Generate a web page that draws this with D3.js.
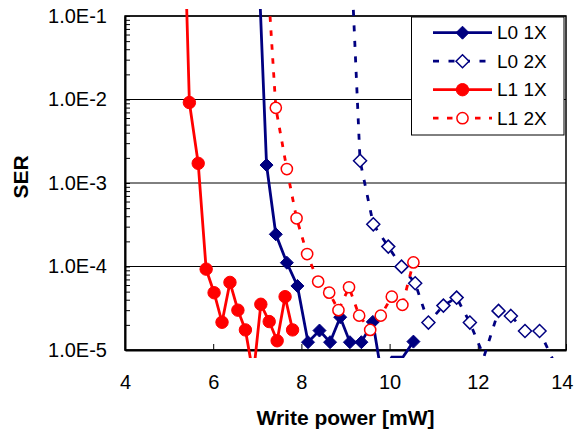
<!DOCTYPE html>
<html>
<head>
<meta charset="utf-8">
<script src="https://cdn.jsdelivr.net/npm/d3@7"></script>
<style>
  html, body { margin: 0; padding: 0; background: #fff; }
  svg { display: block; font-family: "Liberation Sans", Arial, sans-serif; }
</style>
</head>
<body>
<svg id="chart" width="575" height="434"></svg>
<script>
// Symbol error rate vs. write power for two layers at 1X and 2X speed
const l0x1Power = [7.0, 7.21, 7.42, 7.67, 7.91, 8.15, 8.41, 8.65, 8.88, 9.10, 9.36, 9.62, 9.82, 10.05, 10.30, 10.54];
const l0x1Ser   = [1.0, 1.64e-3, 2.43e-4, 1.11e-4, 5.85e-5, 1.24e-5, 1.71e-5, 1.24e-5, 2.47e-5, 1.24e-5, 1.24e-5, 2.17e-5, 5e-6, 8.2e-6, 8.2e-6, 1.26e-5];

const l0x2Power = [9.10, 9.33, 9.63, 9.97, 10.27, 10.58, 10.88, 11.22, 11.52, 11.82, 12.14, 12.47, 12.75, 13.07, 13.40, 13.70];
const l0x2Ser   = [1.0, 1.85e-3, 3.2e-4, 1.73e-4, 9.96e-5, 6.3e-5, 2.13e-5, 3.4e-5, 4.24e-5, 2.13e-5, 8.3e-6, 2.94e-5, 2.56e-5, 1.69e-5, 1.69e-5, 7.7e-6];

const l1x1Power = [5.35, 5.46, 5.66, 5.84, 6.02, 6.20, 6.38, 6.56, 6.73, 6.91, 7.08, 7.27, 7.45, 7.63, 7.80];
const l1x1Ser   = [1.0, 9.2e-3, 1.72e-3, 9.3e-5, 4.85e-5, 2.15e-5, 6.45e-5, 3.0e-5, 1.74e-5, 5e-6, 3.53e-5, 2.19e-5, 1.29e-5, 4.35e-5, 1.74e-5];

const l1x2Power = [7.17, 7.42, 7.67, 7.89, 8.13, 8.38, 8.63, 8.84, 9.08, 9.31, 9.56, 9.80, 10.05, 10.29, 10.54];
const l1x2Ser   = [1.0, 7.94e-3, 1.47e-3, 3.78e-4, 1.41e-4, 6.6e-5, 4.86e-5, 3.0e-5, 5.64e-5, 2.58e-5, 1.74e-5, 2.58e-5, 4.35e-5, 3.47e-5, 1.12e-4];

const seriesNames = ["L0 1X", "L0 2X", "L1 1X", "L1 2X"];
const xTicks = [4, 6, 8, 10, 12, 14];
const yTicks = [1e-5, 1e-4, 1e-3, 1e-2, 1e-1];
const yTickLabels = ["1.0E-5", "1.0E-4", "1.0E-3", "1.0E-2", "1.0E-1"];
const xTitle = "Write power [mW]";
const yTitle = "SER";

// ---- layout ----
const W = 575, H = 434;
const plot = { left: 125, right: 566, top: 16, bottom: 350 };
const lineClip = { top: 9, bottom: 358 };
const NAVY = "#000080", RED = "#ff0000";

const x = d3.scaleLinear().domain([4, 14]).range([plot.left, plot.right]);
const y = d3.scaleLog().domain([1e-5, 1e-1]).range([plot.bottom, plot.top]);

const svg = d3.select("#chart");
svg.append("rect").attr("width", W).attr("height", H).attr("fill", "#fff");

svg.append("defs").append("clipPath").attr("id", "lineClip")
  .append("rect")
  .attr("x", plot.left).attr("y", lineClip.top)
  .attr("width", plot.right - plot.left)
  .attr("height", lineClip.bottom - lineClip.top);

// horizontal gridlines at each decade
svg.append("g").selectAll("line").data(yTicks).join("line")
  .attr("x1", plot.left).attr("x2", plot.right)
  .attr("y1", d => y(d)).attr("y2", d => y(d))
  .attr("stroke", "#000").attr("stroke-width", 1);

// plot frame
svg.append("rect")
  .attr("x", plot.left).attr("y", plot.top)
  .attr("width", plot.right - plot.left).attr("height", plot.bottom - plot.top)
  .attr("fill", "none").attr("stroke", "#000").attr("stroke-width", 1.5);

// minor log ticks on the value axis
const minorTicks = [];
for (let e = -5; e <= -2; e++) for (let m = 2; m <= 9; m++) minorTicks.push(m * Math.pow(10, e));
svg.append("g").attr("transform", `translate(${plot.left},0)`)
  .call(d3.axisLeft(y).tickValues(minorTicks).tickFormat("").tickSize(-5).tickSizeOuter(0))
  .call(g => g.select(".domain").remove())
  .selectAll("line").attr("stroke", "#000").attr("stroke-width", 1);

// value axis
const yAxis = svg.append("g").attr("transform", `translate(${plot.left},0)`)
  .call(d3.axisLeft(y).tickValues(yTicks).tickFormat((d, i) => yTickLabels[i])
    .tickSize(-5).tickSizeOuter(0).tickPadding(18));
yAxis.select(".domain").attr("stroke", "#000").attr("stroke-width", 2);
yAxis.selectAll("text").attr("font-size", 20).attr("font-family", "Liberation Sans, Arial, sans-serif").attr("fill", "#000");

// power axis
const xAxis = svg.append("g").attr("transform", `translate(0,${plot.bottom})`)
  .call(d3.axisBottom(x).tickValues(xTicks).tickSize(-6).tickSizeOuter(0).tickPadding(25));
xAxis.select(".domain").attr("stroke", "#000").attr("stroke-width", 2);
xAxis.selectAll("line").attr("stroke", "#000").attr("stroke-width", 1);
xAxis.selectAll("text").attr("font-size", 20).attr("font-family", "Liberation Sans, Arial, sans-serif").attr("fill", "#000");
// keep the last label inside the page edge
xAxis.selectAll(".tick").filter(d => d === xTicks[xTicks.length - 1]).select("text")
  .attr("text-anchor", "end").attr("x", W - 2 - x(xTicks[xTicks.length - 1]));

// axis titles
svg.append("text")
  .attr("x", (plot.left + plot.right) / 2).attr("y", 425)
  .attr("text-anchor", "middle").attr("font-size", 21).attr("font-weight", "bold")
  .text(xTitle);
svg.append("text")
  .attr("transform", "translate(20,177) rotate(-90)")
  .attr("text-anchor", "middle").attr("dominant-baseline", "central")
  .attr("font-size", 21).attr("font-weight", "bold")
  .text(yTitle);

// ---- series ----
const diamondPath = r => `M0,${-r}L${r},0L0,${r}L${-r},0Z`;
const circlePath = r => `M${-r},0A${r},${r} 0 1,0 ${r},0A${r},${r} 0 1,0 ${-r},0Z`;

const series = [
  { name: seriesNames[0], xs: l0x1Power, ys: l0x1Ser, color: NAVY, dash: null,      marker: diamondPath(6.5), open: false },
  { name: seriesNames[1], xs: l0x2Power, ys: l0x2Ser, color: NAVY, dash: "6,9.5",   marker: diamondPath(6.5), open: true },
  { name: seriesNames[2], xs: l1x1Power, ys: l1x1Ser, color: RED,  dash: null,      marker: circlePath(6.2),  open: false },
  { name: seriesNames[3], xs: l1x2Power, ys: l1x2Ser, color: RED,  dash: "5.5,8.5", marker: circlePath(5.6),  open: true }
];

const line = d3.line().x(d => x(d[0])).y(d => y(d[1]));
const inDomain = v => v >= 1e-5 * 0.999 && v <= 1e-1 * 1.001;

function styleMarker(sel, s) {
  sel.attr("d", s.marker)
    .attr("fill", s.open ? "#fff" : s.color)
    .attr("stroke", s.color)
    .attr("stroke-width", s.open ? 1.5 : 1);
}

series.forEach(s => {
  const pts = s.xs.map((v, i) => [v, s.ys[i]]);
  const g = svg.append("g");
  g.append("path").datum(pts)
    .attr("clip-path", "url(#lineClip)")
    .attr("d", line)
    .attr("fill", "none").attr("stroke", s.color).attr("stroke-width", 2.8)
    .attr("stroke-dasharray", s.dash);
  g.selectAll("path.m").data(pts.filter(p => inDomain(p[1]))).join("path")
    .attr("class", "m")
    .attr("transform", p => `translate(${x(p[0])},${y(p[1])})`)
    .call(styleMarker, s);
});

// ---- legend ----
const legend = svg.append("g");
legend.append("rect")
  .attr("x", 411.5).attr("y", 17).attr("width", 152.5).attr("height", 118)
  .attr("fill", "#fff").attr("stroke", "#000").attr("stroke-width", 1);
const rowY = i => 32.7 + i * 28.5;
series.forEach((s, i) => {
  const row = legend.append("g").attr("transform", `translate(0,${rowY(i)})`);
  row.append("line").attr("x1", 433).attr("x2", 492).attr("y1", 0).attr("y2", 0)
    .attr("stroke", s.color).attr("stroke-width", 2.8).attr("stroke-dasharray", s.dash);
  row.append("path").attr("transform", "translate(462.5,0)").call(styleMarker, s);
  row.append("text").attr("x", 497).attr("y", 0).attr("dominant-baseline", "central")
    .attr("font-size", 19).attr("fill", "#000").text(s.name);
});
</script>
</body>
</html>
